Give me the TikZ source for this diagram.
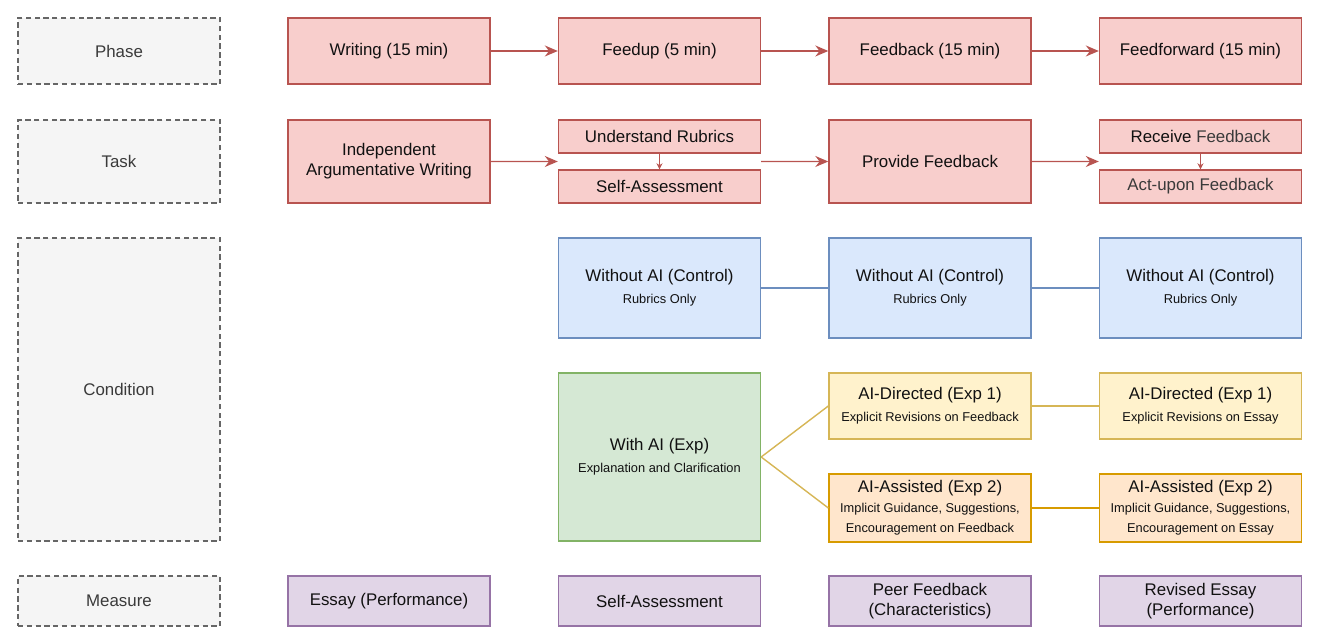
\documentclass[tikz,border=0pt]{standalone}
\usepackage{fontspec}
\setmainfont{Liberation Sans}
\usetikzlibrary{arrows.meta,positioning,calc}
\definecolor{redfill}{HTML}{F8CECC}
\definecolor{reddraw}{HTML}{B85450}
\definecolor{bluefill}{HTML}{DAE8FC}
\definecolor{bluedraw}{HTML}{6C8EBF}
\definecolor{greenfill}{HTML}{D5E8D4}
\definecolor{greendraw}{HTML}{82B366}
\definecolor{yellowfill}{HTML}{FFF2CC}
\definecolor{yellowdraw}{HTML}{D6B656}
\definecolor{orangefill}{HTML}{FFE6CC}
\definecolor{orangedraw}{HTML}{D79B00}
\definecolor{purplefill}{HTML}{E1D5E7}
\definecolor{purpledraw}{HTML}{9673A6}
\definecolor{labelfill}{HTML}{F5F5F5}
\definecolor{labeldraw}{HTML}{666666}
\definecolor{txt}{HTML}{111111}
\definecolor{softtxt}{HTML}{3A3A3A}
\newcommand{\subtxt}{\fontsize{7.3}{9}\selectfont}

\begin{document}
\begin{tikzpicture}[
        x=0.02cm, y=-0.02cm,
        box/.style={draw, line width=0.8pt, minimum width=4.04cm, inner sep=1pt, align=center, font=\fontsize{9.6}{11.5}\selectfont, text=txt},
        rowlabel/.style={box, draw=labeldraw, fill=labelfill, dashed, dash pattern=on 3pt off 2pt, text=softtxt},
        phasebox/.style={box, draw=reddraw, fill=redfill},
        ctrlbox/.style={box, draw=bluedraw, fill=bluefill},
        measurebox/.style={box, draw=purpledraw, fill=purplefill, minimum height=1cm},
        arrow/.style={-{Stealth[length=2.6mm, width=2.2mm]}, line width=0.8pt, draw=reddraw},
        smallarrow/.style={-{Stealth[length=1.2mm, width=1.2mm]}, line width=0.8pt, draw=reddraw},
        link/.style={line width=0.8pt}
    ]
        \useasboundingbox (0,0) rectangle (1320,644);

        % row labels
        \node[rowlabel, minimum height=1.32cm] (lphase) at (119,51) {Phase};
        \node[rowlabel, minimum height=1.66cm] (ltask) at (119,161.5) {Task};
        \node[rowlabel, minimum height=6.06cm] (lcond) at (119,389.5) {Condition};
        \node[rowlabel, minimum height=1cm] (lmeas) at (119,601) {Measure};

        % phases
        \node[phasebox, minimum height=1.32cm] (writing) at (389,51) {Writing (15 min)};
        \node[phasebox, minimum height=1.32cm] (feedup) at (659.5,51) {Feedup (5 min)};
        \node[phasebox, minimum height=1.32cm] (feedback) at (930,51) {Feedback (15 min)};
        \node[phasebox, minimum height=1.32cm] (feedfwd) at (1200.5,51) {Feedforward (15 min)};

        \draw[arrow] (writing) -- (feedup);
        \draw[arrow] (feedup) -- (feedback);
        \draw[arrow] (feedback) -- (feedfwd);

        % tasks
        \node[phasebox, minimum height=1.66cm] (indep) at (389,161.5) {Independent\\Argumentative Writing};
        \node[phasebox, minimum height=0.66cm] (rubrics) at (659.5,136.5) {Understand Rubrics};
        \node[phasebox, minimum height=0.66cm] (selfass) at (659.5,186.5) {Self-Assessment};
        \node[phasebox, minimum height=1.66cm] (provide) at (930,161.5) {Provide Feedback};
        \node[phasebox, minimum height=0.66cm] (receive) at (1200.5,136.5) {Receive \textcolor{softtxt}{Feedback}};
        \node[phasebox, minimum height=0.66cm, text=softtxt] (actupon) at (1200.5,186.5) {Act-upon Feedback};

        \coordinate (feedupin) at ($(rubrics.south west)!0.5!(selfass.north west)$);
        \coordinate (feedupout) at ($(rubrics.south east)!0.5!(selfass.north east)$);
        \coordinate (fwdin) at ($(receive.south west)!0.5!(actupon.north west)$);

        \draw[arrow] (indep.east) -- (feedupin);
        \draw[arrow] (feedupout) -- (provide.west);
        \draw[arrow] (provide.east) -- (fwdin);
        \draw[smallarrow] (rubrics) -- (selfass);
        \draw[smallarrow] (receive) -- (actupon);

        % conditions
        \node[ctrlbox, minimum height=2cm] (ctrla) at (659.5,288) {Without AI (Control)\\[1pt]{\subtxt Rubrics Only}};
        \node[ctrlbox, minimum height=2cm] (ctrlb) at (930,288) {Without AI (Control)\\[1pt]{\subtxt Rubrics Only}};
        \node[ctrlbox, minimum height=2cm] (ctrlc) at (1200.5,288) {Without AI (Control)\\[1pt]{\subtxt Rubrics Only}};
        \draw[link, draw=bluedraw] (ctrla) -- (ctrlb);
        \draw[link, draw=bluedraw] (ctrlb) -- (ctrlc);

        \node[box, draw=greendraw, fill=greenfill, minimum height=3.36cm] (withai) at (659.5,457) {With AI (Exp)\\[1pt]{\subtxt Explanation and Clarification}};
        \node[box, draw=yellowdraw, fill=yellowfill, minimum height=1.32cm] (dirfb) at (930,406) {AI-Directed (Exp 1)\\[1pt]{\subtxt Explicit Revisions on Feedback}};
        \node[box, draw=yellowdraw, fill=yellowfill, minimum height=1.32cm] (dires) at (1200.5,406) {AI-Directed (Exp 1)\\[1pt]{\subtxt Explicit Revisions on Essay}};
        \node[box, draw=orangedraw, fill=orangefill, minimum height=1.36cm] (assfb) at (930,508) {AI-Assisted (Exp 2)\\[0pt]{\subtxt Implicit Guidance, Suggestions,}\\[0pt]{\subtxt Encouragement on Feedback}};
        \node[box, draw=orangedraw, fill=orangefill, minimum height=1.36cm] (asses) at (1200.5,508) {AI-Assisted (Exp 2)\\[0pt]{\subtxt Implicit Guidance, Suggestions,}\\[0pt]{\subtxt Encouragement on Essay}};

        \draw[link, draw=yellowdraw] (withai.east) -- (dirfb.west);
        \draw[link, draw=yellowdraw] (withai.east) -- (assfb.west);
        \draw[link, draw=yellowdraw] (dirfb) -- (dires);
        \draw[link, draw=orangedraw] (assfb.east) -- (asses.west);

        % measures
        \node[measurebox] (essay) at (389,601) {Essay (Performance)};
        \node[measurebox] (selfm) at (659.5,601) {Self-Assessment};
        \node[measurebox] (peer) at (930,601) {Peer Feedback\\(Characteristics)};
        \node[measurebox] (revised) at (1200.5,601) {Revised Essay\\(Performance)};
    \end{tikzpicture}
\end{document}
